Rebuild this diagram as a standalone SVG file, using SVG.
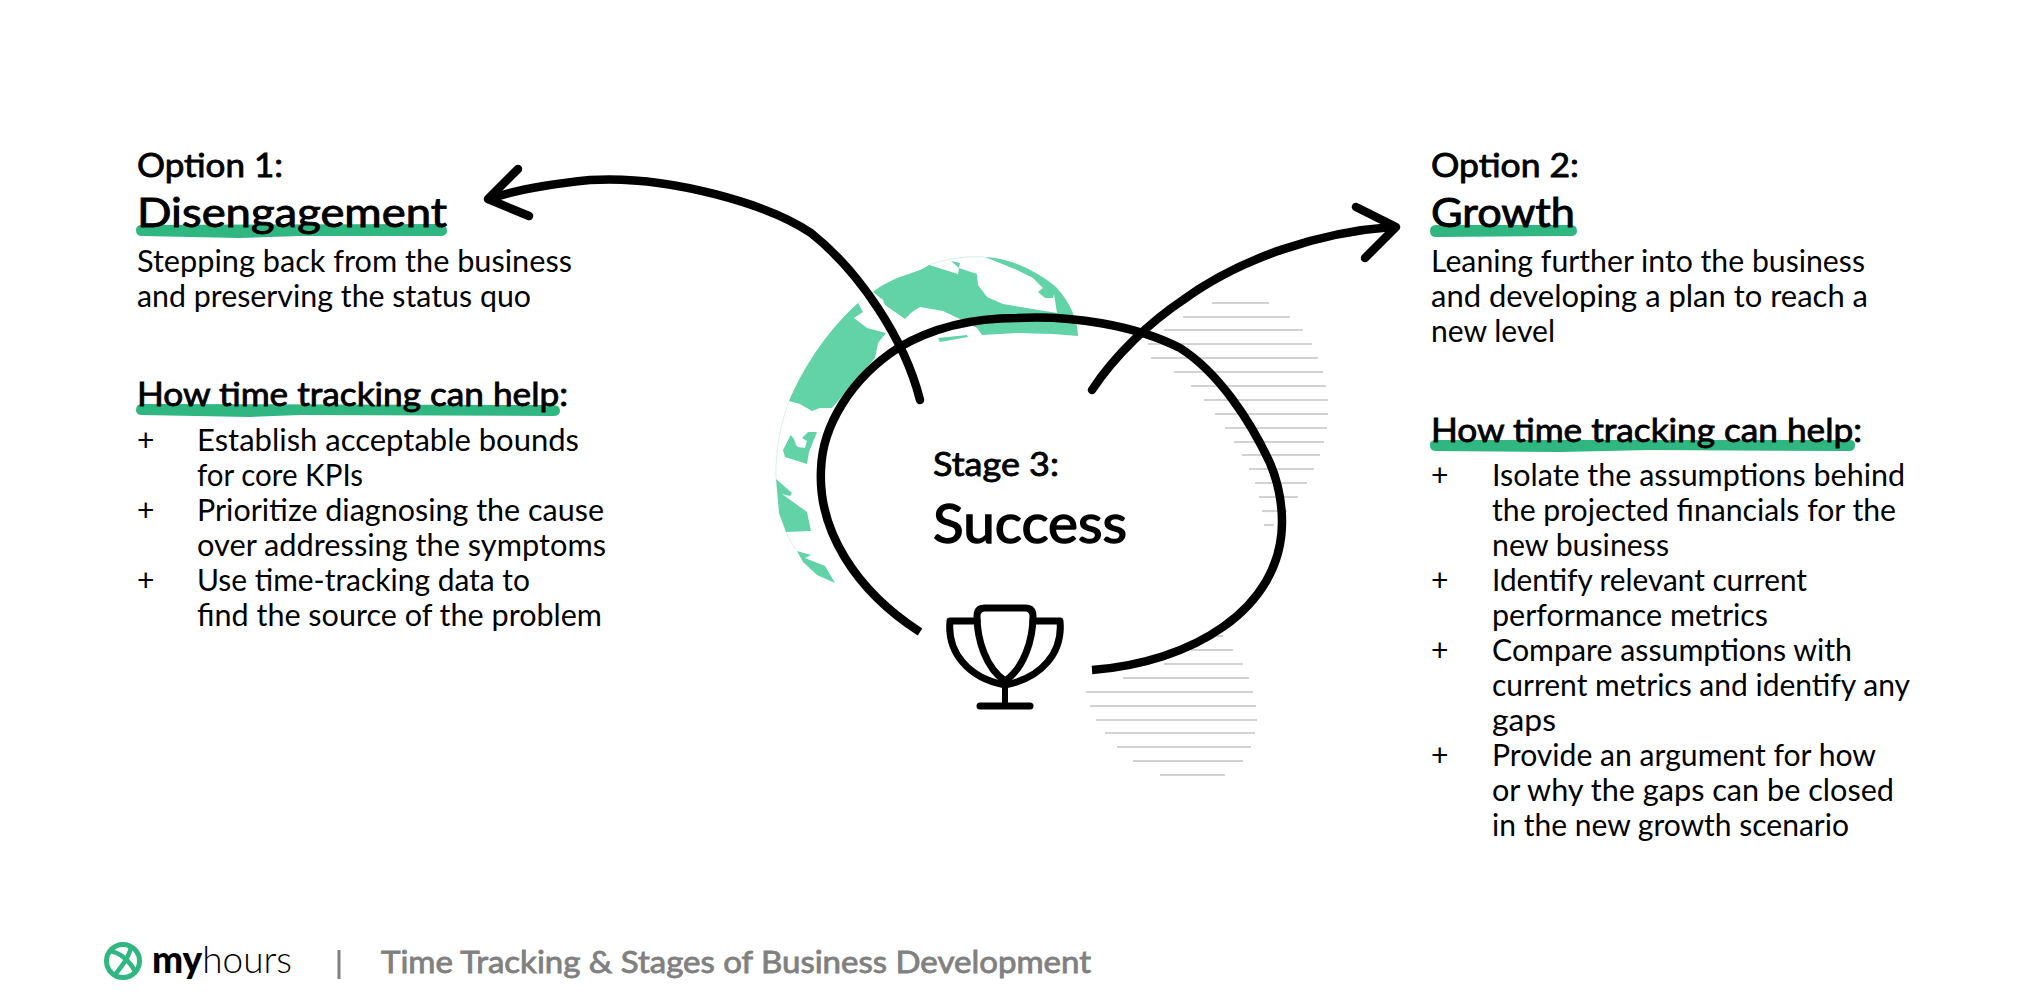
<svg xmlns="http://www.w3.org/2000/svg" width="2042" height="1001" viewBox="0 0 2042 1001">
<style>
text{font-family:"Lato","Noto Sans","Liberation Sans",sans-serif;fill:#000}
.h{font-size:32px;font-weight:400;stroke:#000;stroke-width:.8}
.t{font-size:40px;font-weight:400;stroke:#000;stroke-width:.9}
.b{font-size:30px;font-weight:400}
.u{fill:#2fb681}
.g{fill:#62d3a6}
.c{fill:none;stroke:#000;stroke-width:8.5}
.r{stroke-linecap:round;stroke-linejoin:round}
.s line{stroke:#d2d2d2;stroke-width:2.2}
</style>
<rect width="2042" height="1001" fill="#fff"/>
<g id="globe">
<path d="M776,479C775,455 780,425 789,401M786,532C790,540 793,546 797,551M858,303L873,292M929,265C948,258 966,256 985,257" fill="none" stroke="#62d3a6" stroke-width=".4" opacity=".7"/>
<path class="g" d="M789,401C806,362 830,328 858,303L863,312L854,318L867,328L886,333L878,343L875,358L832,408L820,408L812,411L800,404Z"/>
<path class="g" d="M873,292C894,275 917,274 929,265L958,274L959,268L951,261L960,263L959,268L977,274L978,285L987,297L1003,304L1057,313L1054,294L1053,298L1045,298L1038,292L1043,288L1033,278L1017,270L985,257C1010,258 1035,270 1056,287C1070,302 1078,320 1078,336L1053,334L1017,333L982,335L977,328L962,320L943,311L920,307L912,312L905,319L885,305L883,300Z"/>
<path class="g" d="M938,338L967,335L968,337L940,342Z"/>
<path class="g" d="M790.7,435L783,450L785,457L807,464L809,452L817,432L808,432L802,438L807,441L805,448L798,447L796,445L794,439Z"/>
<path class="g" d="M776,479L792,493L790,496L782,494L807,512L811,531L786,532L779,513Z"/>
<path class="g" d="M797,551L811,555L805,558L825,566L835,583L817,575L803,562Z"/>
</g>
<g id="stripes" class="s">
<line x1="1212" y1="303" x2="1269" y2="303"/><line x1="1183" y1="317" x2="1290" y2="317"/><line x1="1164" y1="330" x2="1303" y2="330"/><line x1="1148" y1="344" x2="1312" y2="344"/><line x1="1151" y1="358" x2="1318" y2="358"/><line x1="1174" y1="372" x2="1323" y2="372"/><line x1="1191" y1="386" x2="1326" y2="386"/><line x1="1204" y1="400" x2="1328" y2="400"/><line x1="1215" y1="414" x2="1328" y2="414"/><line x1="1225" y1="428" x2="1327" y2="428"/><line x1="1234" y1="442" x2="1324" y2="442"/><line x1="1242" y1="455" x2="1320" y2="455"/><line x1="1249" y1="469" x2="1314" y2="469"/><line x1="1255" y1="483" x2="1307" y2="483"/><line x1="1259" y1="497" x2="1298" y2="497"/><line x1="1262" y1="511" x2="1287" y2="511"/><line x1="1264" y1="525" x2="1274" y2="525"/>
<line x1="1210" y1="636" x2="1223" y2="636"/><line x1="1191" y1="650" x2="1233" y2="650"/><line x1="1164" y1="664" x2="1243" y2="664"/><line x1="1123" y1="678" x2="1249" y2="678"/><line x1="1086" y1="692" x2="1253" y2="692"/><line x1="1090" y1="706" x2="1256" y2="706"/><line x1="1096" y1="720" x2="1257" y2="720"/><line x1="1105" y1="733" x2="1255" y2="733"/><line x1="1117" y1="747" x2="1251" y2="747"/><line x1="1133" y1="761" x2="1243" y2="761"/><line x1="1160" y1="775" x2="1225" y2="775"/>
</g>
<g id="connectors">
<path id="cycle" class="c" d="M920,632C855,590 818,530 821,470C822,425 852,378 898,348C935,326 975,318 1017,318C1070,315 1135,325 1180,348C1218,372 1250,420 1270,463C1278,482 1282,503 1282,522C1282,610 1190,663 1092,670"/>
<path id="arrow-left" class="c r" d="M920,400C905,340 860,272 811,233C770,205 670,175 590,180C550,184 515,190 490,199"/>
<path class="c r" d="M518,169L488,199L529,216"/>
<path id="arrow-right" class="c r" d="M1092,390C1115,355 1150,322 1183,300C1240,258 1320,232 1392,227"/>
<path class="c r" d="M1356,207L1396,227L1365,258"/>
</g>
<g id="option1">
<path class="u" d="M142,225L440,224Q447,224 447,231Q447,236 440,236L300,236L240,238L142,236Q136,236 136,230Q136,225 142,225Z"/>
<text class="h" x="137" y="177" textLength="146" lengthAdjust="spacingAndGlyphs">Option 1:</text>
<text class="t" x="137" y="227" textLength="310" lengthAdjust="spacingAndGlyphs">Disengagement</text>
<text class="b" x="137" y="272" textLength="435" lengthAdjust="spacingAndGlyphs">Stepping back from the business</text>
<text class="b" x="137" y="307" textLength="394" lengthAdjust="spacingAndGlyphs">and preserving the status quo</text>
<path class="u" d="M142,404L553,405Q560,405 560,411Q560,416 553,416L300,415L250,417L142,415Q136,415 136,410Q136,404 142,404Z"/>
<text class="h" x="137" y="406" textLength="431" lengthAdjust="spacingAndGlyphs">How time tracking can help:</text>
<text class="b" x="137" y="451">+</text><text class="b" x="197" y="451" textLength="382" lengthAdjust="spacingAndGlyphs">Establish acceptable bounds</text>
<text class="b" x="197" y="486" textLength="166" lengthAdjust="spacingAndGlyphs">for core KPIs</text>
<text class="b" x="137" y="521">+</text><text class="b" x="197" y="521" textLength="407" lengthAdjust="spacingAndGlyphs">Prioritize diagnosing the cause</text>
<text class="b" x="197" y="556" textLength="409" lengthAdjust="spacingAndGlyphs">over addressing the symptoms</text>
<text class="b" x="137" y="591">+</text><text class="b" x="197" y="591" textLength="333" lengthAdjust="spacingAndGlyphs">Use time-tracking data to</text>
<text class="b" x="197" y="626" textLength="405" lengthAdjust="spacingAndGlyphs">find the source of the problem</text>
</g>
<g id="option2">
<path class="u" d="M1436,225L1571,225Q1577,225 1577,231Q1577,236 1571,236L1436,237Q1430,237 1430,231Q1430,225 1436,225Z"/>
<text class="h" x="1431" y="177" textLength="148" lengthAdjust="spacingAndGlyphs">Option 2:</text>
<text class="t" x="1431" y="227" textLength="144" lengthAdjust="spacingAndGlyphs">Growth</text>
<text class="b" x="1431" y="272" textLength="434" lengthAdjust="spacingAndGlyphs">Leaning further into the business</text>
<text class="b" x="1431" y="307" textLength="437" lengthAdjust="spacingAndGlyphs">and developing a plan to reach a</text>
<text class="b" x="1431" y="342" textLength="124" lengthAdjust="spacingAndGlyphs">new level</text>
<path class="u" d="M1436,440L1850,440Q1855,440 1855,445Q1855,451 1849,451L1650,450L1560,452L1436,451Q1430,451 1430,445Q1430,440 1436,440Z"/>
<text class="h" x="1431" y="442" textLength="431" lengthAdjust="spacingAndGlyphs">How time tracking can help:</text>
<text class="b" x="1431" y="486">+</text><text class="b" x="1492" y="486" textLength="413" lengthAdjust="spacingAndGlyphs">Isolate the assumptions behind</text>
<text class="b" x="1492" y="521" textLength="404" lengthAdjust="spacingAndGlyphs">the projected financials for the</text>
<text class="b" x="1492" y="556" textLength="177" lengthAdjust="spacingAndGlyphs">new business</text>
<text class="b" x="1431" y="591">+</text><text class="b" x="1492" y="591" textLength="315" lengthAdjust="spacingAndGlyphs">Identify relevant current</text>
<text class="b" x="1492" y="626" textLength="276" lengthAdjust="spacingAndGlyphs">performance metrics</text>
<text class="b" x="1431" y="661">+</text><text class="b" x="1492" y="661" textLength="360" lengthAdjust="spacingAndGlyphs">Compare assumptions with</text>
<text class="b" x="1492" y="696" textLength="418" lengthAdjust="spacingAndGlyphs">current metrics and identify any</text>
<text class="b" x="1492" y="731" textLength="64" lengthAdjust="spacingAndGlyphs">gaps</text>
<text class="b" x="1431" y="766">+</text><text class="b" x="1492" y="766" textLength="384" lengthAdjust="spacingAndGlyphs">Provide an argument for how</text>
<text class="b" x="1492" y="801" textLength="402" lengthAdjust="spacingAndGlyphs">or why the gaps can be closed</text>
<text class="b" x="1492" y="836" textLength="357" lengthAdjust="spacingAndGlyphs">in the new growth scenario</text>
</g>
<g id="stage3">
<text class="h" x="933" y="476" textLength="126" lengthAdjust="spacingAndGlyphs">Stage 3:</text>
<text x="933" y="543" textLength="194" lengthAdjust="spacingAndGlyphs" style="font-size:54px;font-weight:400;stroke:#000;stroke-width:1.4">Success</text>
</g>
<g id="trophy" fill="none" stroke="#000" stroke-width="7" stroke-linejoin="round" stroke-linecap="round">
<path d="M1005,681C986,668 977,640 977,616Q977,608 985,608L1025,608Q1033,608 1033,616C1033,640 1024,668 1005,681Z"/>
<path d="M977,621L950,621C947,652 968,678 1005,685C1042,678 1063,652 1060,621L1033,621"/>
<path d="M1005,685L1005,706" stroke-width="6"/>
<path d="M980,706L1030,706"/>
</g>
<g id="footer">
<g id="logo">
<circle cx="123" cy="961" r="16.5" fill="#fff" stroke="#2fb681" stroke-width="5"/>
<path d="M110,951C118,952 130,960 135,972M131,946C130,956 122,966 114,976" fill="none" stroke="#2fb681" stroke-width="4.5"/>
<text x="152" y="973" textLength="140" lengthAdjust="spacingAndGlyphs" style="font-size:38px;font-weight:300"><tspan font-weight="900">my</tspan>hours</text>
</g>
<line x1="339" y1="950" x2="339" y2="979" stroke="#808080" stroke-width="3"/>
<text x="381" y="973" textLength="710" lengthAdjust="spacingAndGlyphs" style="font-size:30px;font-weight:400;fill:#808080;stroke:#808080;stroke-width:.8">Time Tracking &amp; Stages of Business Development</text>
</g>
</svg>
